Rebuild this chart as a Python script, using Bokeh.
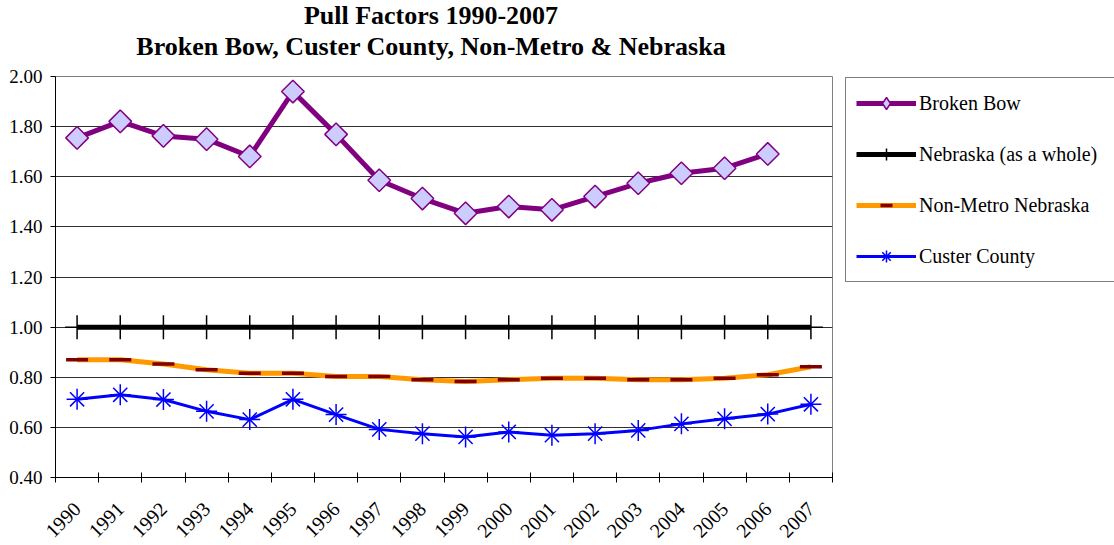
import math
from bokeh.plotting import figure
from bokeh.layouts import column
from bokeh.models import (FixedTicker, PrintfTickFormatter, Legend, LegendItem,
                          ColumnDataSource, Range1d, Div)
from bokeh.embed import file_html
from bokeh.resources import INLINE

NAN = float("nan")

years = ["1990", "1991", "1992", "1993", "1994", "1995", "1996", "1997", "1998",
         "1999", "2000", "2001", "2002", "2003", "2004", "2005", "2006", "2007"]
broken_bow = [1.755, 1.821, 1.763, 1.750, 1.681, 1.940, 1.769, 1.586, 1.513,
              1.454, 1.481, 1.468, 1.521, 1.574, 1.614, 1.634, 1.691, NAN]
nebraska = [1.00, 1.00, 1.00, 1.00, 1.00, 1.00, 1.00, 1.00, 1.00,
            1.00, 1.00, 1.00, 1.00, 1.00, 1.00, 1.00, 1.00, 1.00]
non_metro = [0.870, 0.870, 0.853, 0.830, 0.816, 0.816, 0.803, 0.803, 0.790,
             0.783, 0.790, 0.796, 0.796, 0.790, 0.790, 0.796, 0.810, 0.842]
custer = [0.712, 0.730, 0.711, 0.664, 0.631, 0.712, 0.651, 0.592, 0.575,
          0.562, 0.582, 0.569, 0.575, 0.588, 0.614, 0.634, 0.653, 0.692]
y_ticks = [0.40, 0.60, 0.80, 1.00, 1.20, 1.40, 1.60, 1.80, 2.00]
title_1 = "Pull Factors 1990-2007"
title_2 = "Broken Bow, Custer County, Non-Metro &amp; Nebraska"

FONT = "Liberation Serif"

n = len(years)
xc = [i + 0.5 for i in range(n)]
src = ColumnDataSource(dict(x=xc, bb=broken_bow, ne=nebraska, nm=non_metro, cu=custer))

p = figure(frame_width=777, frame_height=401,
           min_border_left=55, min_border_right=280, min_border_top=16, min_border_bottom=66,
           x_range=Range1d(0, n), y_range=Range1d(y_ticks[0], y_ticks[-1]),
           output_backend="svg", toolbar_location=None,
           background_fill_color="white", border_fill_color="white")
p.title.visible = False
p.outline_line_color = "#808080"
p.outline_line_width = 1

# axes
p.xaxis.ticker = FixedTicker(ticks=xc, minor_ticks=list(range(n + 1)))
p.xaxis.major_label_overrides = {x: y for x, y in zip(xc, years)}
p.xaxis.major_label_orientation = math.pi / 4
p.xaxis.major_tick_line_color = None
p.xaxis.major_tick_in = 0
p.xaxis.major_tick_out = 0
p.xaxis.minor_tick_line_color = "black"
p.xaxis.minor_tick_in = 5
p.xaxis.minor_tick_out = 5
p.xaxis.major_label_standoff = 23
p.xaxis.major_label_text_font = FONT
p.xaxis.major_label_text_font_size = "20px"
p.xaxis.major_label_text_color = "black"
p.xaxis.axis_line_color = "black"

p.yaxis.ticker = FixedTicker(ticks=y_ticks)
p.yaxis.formatter = PrintfTickFormatter(format="%.2f")
p.yaxis.major_tick_in = 0
p.yaxis.major_tick_out = 5
p.yaxis.major_tick_line_color = "black"
p.yaxis.minor_tick_line_color = None
p.yaxis.major_label_standoff = 8
p.yaxis.major_label_text_font = FONT
p.yaxis.major_label_text_font_size = "19px"
p.yaxis.major_label_text_color = "black"
p.yaxis.axis_line_color = "black"

p.xgrid.grid_line_color = None
p.ygrid.grid_line_color = "#303030"
p.ygrid.grid_line_width = 1

# series
bb_line = p.line("x", "bb", source=src, line_color="#800080", line_width=5)
bb_mark = p.scatter("x", "bb", source=src, marker="square", angle=math.pi / 4, size=16,
                    fill_color="#CCCCFF", line_color="#800080", line_width=1.5)
# legend-only symbol (no drawable point)
bb_leg = p.scatter([NAN], [NAN], marker="diamond", size=16,
                   fill_color="#CCCCFF", line_color="#800080", line_width=1.5)

ne_line = p.line("x", "ne", source=src, line_color="black", line_width=5)
ne_mark = p.scatter("x", "ne", source=src, marker="cross", size=24,
                    line_color="black", line_width=1.5)

nm_line = p.line("x", "nm", source=src, line_color="#FF9900", line_width=5)
nm_mark = p.scatter("x", "nm", source=src, marker="dash", size=22,
                    line_color="#800000", line_width=3.5)

cu_line = p.line("x", "cu", source=src, line_color="#0000FF", line_width=3)
cu_mark1 = p.scatter("x", "cu", source=src, marker="x", size=20,
                     line_color="#0000FF", line_width=1.5)
cu_mark2 = p.scatter("x", "cu", source=src, marker="cross", size=21,
                     line_color="#0000FF", line_width=1.5)

legend = Legend(items=[
    LegendItem(label="Broken Bow", renderers=[bb_line, bb_leg]),
    LegendItem(label="Nebraska (as a whole)", renderers=[ne_line, ne_mark]),
    LegendItem(label="Non-Metro Nebraska", renderers=[nm_line, nm_mark]),
    LegendItem(label="Custer County", renderers=[cu_line, cu_mark1, cu_mark2]),
], location=(13, 195), margin=0, padding=10, spacing=21,
    glyph_width=60, glyph_height=30, label_height=30, label_width=185, label_standoff=3,
    label_text_font=FONT, label_text_font_size="20px", label_text_color="black",
    border_line_color="black", border_line_width=1, background_fill_color="white",
    background_fill_alpha=1.0)
p.add_layout(legend, "right")

# titles
title_div = Div(
    text=('<div style="width:862px;text-align:center;font-family:\'Liberation Serif\';'
          'font-weight:bold;font-size:26px;line-height:31px;color:black;margin:0;padding:0">'
          + title_1 + "<br>" + title_2 + "</div>"),
    width=862, height=60, margin=(0, 0, 0, 0))

layout = column(title_div, p, spacing=0)
open("out.html", "w").write(file_html(layout, INLINE))
